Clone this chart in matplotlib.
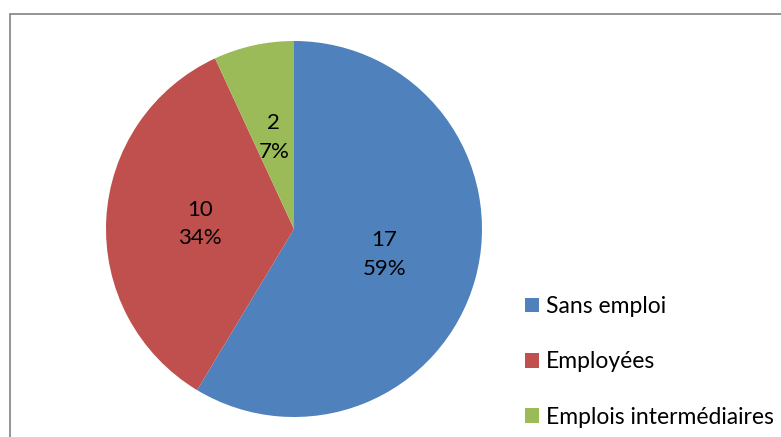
import matplotlib
matplotlib.use("Agg")
import matplotlib.pyplot as plt
from matplotlib.patches import Rectangle

categories = ["Sans emploi", "Employées", "Emplois intermédiaires"]
values = [17, 10, 2]
colors = ["#4F81BD", "#C0504D", "#9BBB59"]

plt.rcParams['font.family'] = ['Lato', 'DejaVu Sans']

W, H = 781, 437
fig = plt.figure(figsize=(W / 100, H / 100), dpi=100)

# border
fig.patches.append(Rectangle((9.5 / W, -0.1), 1.2, (H - 13.5) / H + 0.1,
                             transform=fig.transFigure, fill=False,
                             edgecolor="#8c8c8c", linewidth=1.3))

cx, cy, r = 294, 229, 188
ax = fig.add_axes([(cx - r) / W, (H - cy - r) / H, 2 * r / W, 2 * r / H])
total = sum(values)

def fmt(p):
    v = int(round(p * total / 100))
    return f"{v}\n{p:.0f}%"

wedges, texts, autotexts = ax.pie(values, colors=colors, startangle=90,
                                  counterclock=False, radius=1,
                                  autopct=fmt, pctdistance=0.5,
                                  wedgeprops=dict(linewidth=0),
                                  textprops=dict(fontsize=16, color="black",
                                                 linespacing=1.55))
ax.set_xlim(-1, 1)
ax.set_ylim(-1, 1)
ax.set_aspect("equal")
ax.axis("off")

fig.legend(wedges, categories, loc="upper left",
           bbox_to_anchor=(525 / W, (H - 296) / H), frameon=False,
           fontsize=16.5, handlelength=0.6, handleheight=0.6,
           handletextpad=0.3, labelspacing=1.5, borderpad=0,
           borderaxespad=0)

fig.savefig("out.png", dpi=100)
